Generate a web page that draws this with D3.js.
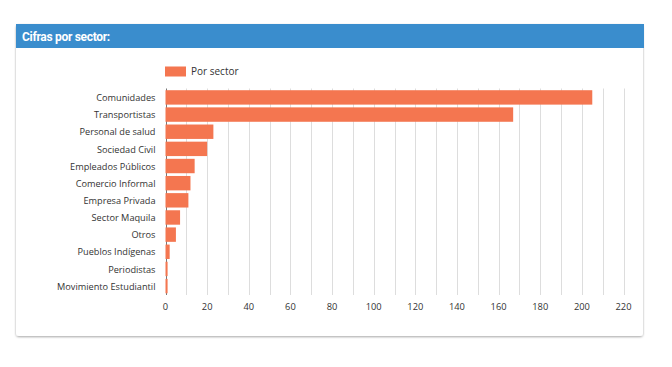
<!DOCTYPE html>
<html>
<head>
<meta charset="utf-8">
<script src="https://cdn.jsdelivr.net/npm/d3@7"></script>
<style>
  body { margin: 0; background: #fff; }
  svg { display: block; }
</style>
</head>
<body>
<svg id="canvas" width="672" height="367"></svg>
<script>
'use strict';

const sectors = ['Comunidades', 'Transportistas', 'Personal de salud', 'Sociedad Civil',
  'Empleados Públicos', 'Comercio Informal', 'Empresa Privada', 'Sector Maquila',
  'Otros', 'Pueblos Indígenas', 'Periodistas', 'Movimiento Estudiantil'];
const counts = [205, 167, 23, 20, 14, 12, 11, 7, 5, 2, 1, 1];
const xTicks = [0, 20, 40, 60, 80, 100, 120, 140, 160, 180, 200, 220];
const gridTicks = d3.range(0, 230, 10);

const kBar = '#f47650';
const kFont = '"Open Sans", sans-serif';

function Main() {
  const svg = d3.select('#canvas');

  // card with shadow
  const defs = svg.append('defs');
  const f = defs.append('filter').attr('id', 'shadow')
      .attr('x', '-5%').attr('y', '-5%').attr('width', '110%').attr('height', '115%');
  f.append('feDropShadow').attr('dx', 0).attr('dy', 1).attr('stdDeviation', 1)
      .attr('flood-color', '#000').attr('flood-opacity', 0.35);

  svg.append('rect')
      .attr('x', 16).attr('y', 24).attr('width', 627).attr('height', 312)
      .attr('rx', 3).attr('fill', '#fff').attr('filter', 'url(#shadow)');
  svg.append('rect')
      .attr('x', 16).attr('y', 24).attr('width', 628).attr('height', 24)
      .attr('fill', '#3a8dcd');
  svg.append('text')
      .attr('x', 22).attr('y', 40.5)
      .attr('fill', '#fff').attr('font-family', 'Roboto, sans-serif')
      .attr('font-weight', 'bold').attr('font-size', 12).attr('letter-spacing', -0.3)
      .text('Cifras por sector:');

  const x = d3.scaleLinear().domain([0, 220]).range([165.5, 623.5]);
  const y = d3.scaleBand().domain(sectors).range([88.5, 295]).paddingInner(0.16).paddingOuter(0.1);

  // grid
  svg.append('g').selectAll('line')
      .data(gridTicks)
    .enter().append('line')
      .attr('x1', function(d) { return Math.round(x(d)) + 0.5; })
      .attr('x2', function(d) { return Math.round(x(d)) + 0.5; })
      .attr('y1', 88.5).attr('y2', 295)
      .attr('stroke', function(d) { return d === 0 ? '#777' : '#ddd'; })
      .attr('stroke-width', 1);

  // bars
  svg.append('g').selectAll('rect')
      .data(sectors)
    .enter().append('rect')
      .attr('x', x(0))
      .attr('y', function(d) { return y(d); })
      .attr('width', function(d, i) { return x(counts[i]) - x(0); })
      .attr('height', y.bandwidth())
      .attr('fill', kBar);

  // y labels
  svg.append('g').selectAll('text')
      .data(sectors)
    .enter().append('text')
      .attr('x', 155.5)
      .attr('y', function(d) { return y(d) + y.bandwidth() / 2 + 0.5; })
      .attr('dy', '0.35em')
      .attr('text-anchor', 'end')
      .attr('font-family', kFont).attr('font-size', 9.2).attr('fill', '#333')
      .text(function(d) { return d; });

  // x labels
  svg.append('g').selectAll('text')
      .data(xTicks)
    .enter().append('text')
      .attr('x', function(d) { return x(d); })
      .attr('y', 310)
      .attr('text-anchor', 'middle')
      .attr('font-family', kFont).attr('font-size', 9.3).attr('fill', '#333')
      .text(function(d) { return d; });

  // legend
  svg.append('rect')
      .attr('x', 165).attr('y', 66.5).attr('width', 21).attr('height', 10)
      .attr('fill', kBar);
  svg.append('text')
      .attr('x', 191).attr('y', 75)
      .attr('font-family', kFont).attr('font-size', 10).attr('fill', '#333')
      .text('Por sector');
}

Main();
</script>
</body>
</html>
